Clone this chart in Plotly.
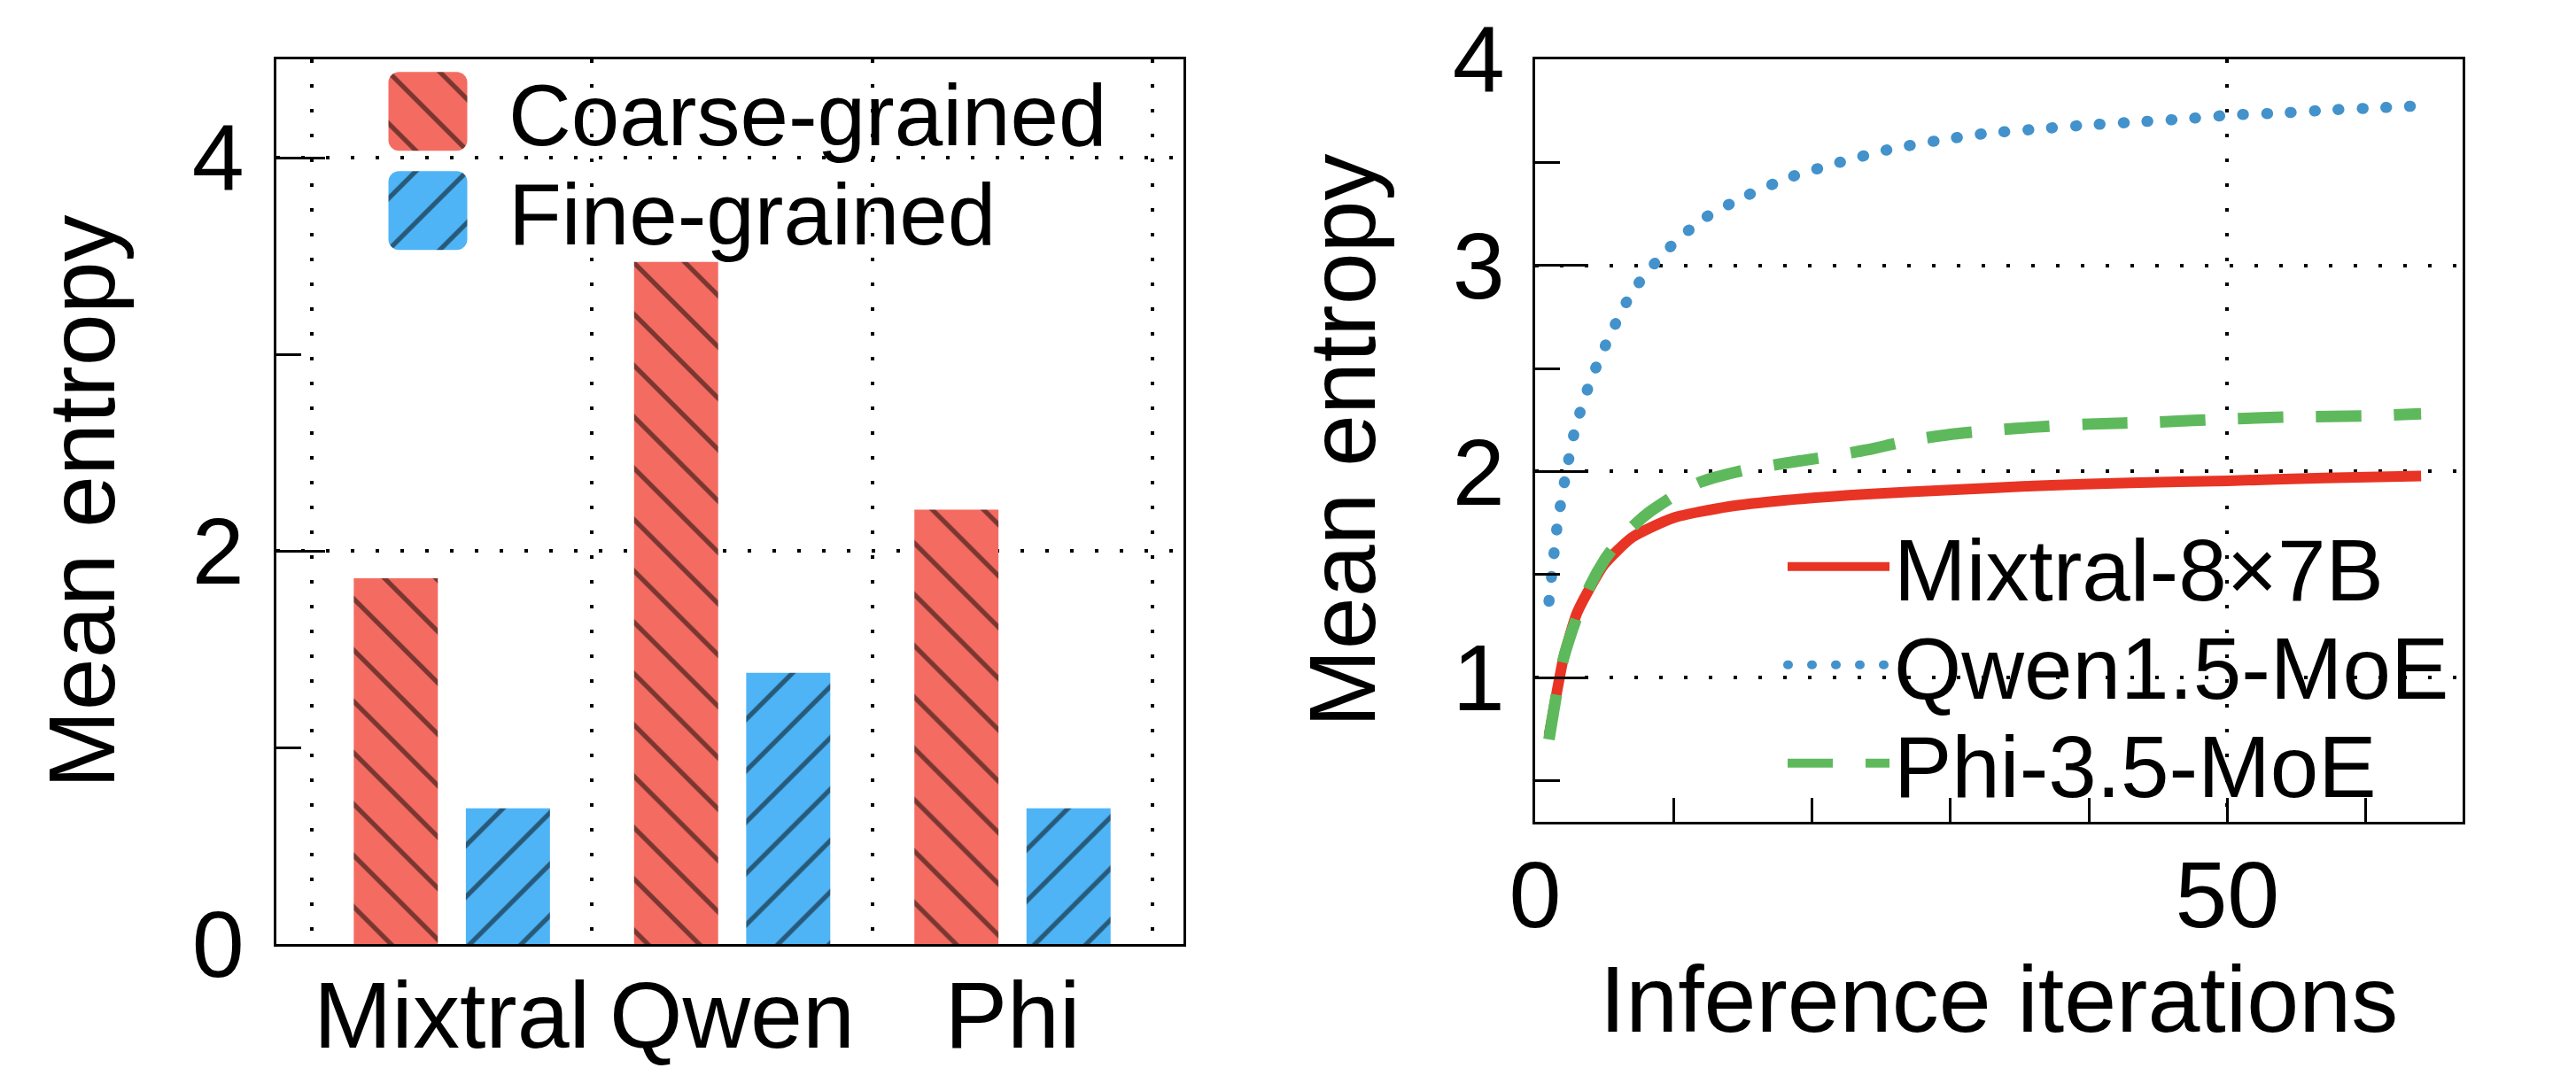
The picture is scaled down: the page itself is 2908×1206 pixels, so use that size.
import plotly.graph_objects as go

# ---------------- data ----------------
models = ["Mixtral", "Qwen", "Phi"]
coarse_entropy = [1.86, 3.47, 2.21]
fine_entropy = [0.69, 1.38, 0.69]

mixtral_iter = [1, 2, 2.4, 3, 4, 5, 7, 10, 14, 18, 24, 30, 36, 43, 50, 57, 64]
mixtral_entropy = [0.72, 1.08, 1.18, 1.31, 1.44, 1.55, 1.68, 1.775, 1.83, 1.86, 1.89, 1.91, 1.93, 1.945, 1.955, 1.968, 1.978]

qwen_iter = [1, 1.6, 2.2, 2.9, 4, 5.4, 7, 9.3, 12, 15, 18.5, 22, 25.4, 29, 32.5, 36, 39.6, 43.2, 46.7, 50.3, 54, 57.5, 61, 64]
qwen_entropy = [1.37, 1.74, 1.98, 2.21, 2.44, 2.66, 2.87, 3.06, 3.22, 3.33, 3.43, 3.50, 3.56, 3.605, 3.64, 3.66, 3.68, 3.695, 3.71, 3.73, 3.74, 3.755, 3.765, 3.775]

phi_iter = [1, 2, 3, 4, 5, 6, 7, 8, 10, 12, 15, 18, 21, 24, 27, 30, 33, 36, 40, 45, 50, 55, 60, 64]
phi_entropy = [0.70, 1.08, 1.29, 1.45, 1.57, 1.66, 1.73, 1.79, 1.88, 1.95, 2.005, 2.04, 2.07, 2.105, 2.15, 2.18, 2.20, 2.215, 2.23, 2.24, 2.255, 2.265, 2.27, 2.28]

# ---------------- style ----------------
W, H = 2908, 1206
FONT = "Liberation Sans, Arial, Helvetica, sans-serif"
FS = 106
LFS = 98
RED_BAR = "#F46C61"
BLUE_BAR = "#4FB4F5"
RED_LINE = "#E83424"
BLUE_LINE = "#4392CB"
GREEN_LINE = "#5EB95C"
GRID_DASH = "3.5px,24.5px"

fig = go.Figure()

fig.add_trace(go.Bar(
    x=models, y=coarse_entropy, name="Coarse-grained",
    width=0.3, offset=-0.35,
    marker=dict(color=RED_BAR, line=dict(width=0),
                pattern=dict(shape="\\", size=41, solidity=0.13, fgcolor="black", bgcolor=RED_BAR)),
    xaxis="x", yaxis="y", legend="legend"))
fig.add_trace(go.Bar(
    x=models, y=fine_entropy, name="Fine-grained",
    width=0.3, offset=0.05,
    marker=dict(color=BLUE_BAR, line=dict(width=0),
                pattern=dict(shape="/", size=41, solidity=0.13, fgcolor="black", bgcolor=BLUE_BAR)),
    xaxis="x", yaxis="y", legend="legend2"))

fig.add_trace(go.Scatter(
    x=mixtral_iter, y=mixtral_entropy, name="Mixtral-8×7B", mode="lines",
    line=dict(color=RED_LINE, width=12, shape="spline", smoothing=0.6),
    xaxis="x2", yaxis="y2", legend="legend3"))
fig.add_trace(go.Scatter(
    x=qwen_iter, y=qwen_entropy, name="Qwen1.5-MoE", mode="lines",
    line=dict(color=BLUE_LINE, width=12.5, dash="1px,26px", shape="spline", smoothing=0.6),
    xaxis="x2", yaxis="y2", legend="legend4"))
fig.add_trace(go.Scatter(
    x=phi_iter, y=phi_entropy, name="Phi-3.5-MoE", mode="lines",
    line=dict(color=GREEN_LINE, width=13, dash="51px,37px", shape="spline", smoothing=0.6),
    xaxis="x2", yaxis="y2", legend="legend5"))

axis_common = dict(
    showline=True, linecolor="black", linewidth=3, mirror=True,
    tickfont=dict(family=FONT, size=FS, color="black"),
    tickcolor="black", tickwidth=3,
    gridcolor="black", gridwidth=3.5, griddash=GRID_DASH,
    zeroline=False, automargin=False,
)

def leg(xpx, ypx, iw):
    return dict(
        x=xpx / W, y=1 - ypx / H, xanchor="left", yanchor="middle",
        bgcolor="rgba(0,0,0,0)", font=dict(family=FONT, size=LFS, color="black"),
        itemwidth=iw, tracegroupgap=0, borderwidth=0,
    )

fig.update_layout(
    width=W, height=H,
    margin=dict(l=0, r=0, t=0, b=0),
    paper_bgcolor="white", plot_bgcolor="white",
    font=dict(family=FONT, size=FS, color="black"),
    showlegend=True,
    xaxis=dict(
        **axis_common,
        domain=[312 / W, 1336 / W], anchor="y",
        type="category", range=[-0.626, 2.61],
        tickson="boundaries", ticks="", showgrid=True,
        tickangle=0, ticklabelstandoff=-13,
    ),
    yaxis=dict(
        **axis_common,
        domain=[1 - 1066 / H, 1 - 67 / H], anchor="x",
        range=[0, 4.5], tickmode="linear", tick0=0, dtick=2,
        ticks="inside", ticklen=55, showgrid=True,
        minor=dict(tick0=0, dtick=1, ticks="inside", ticklen=28, tickwidth=3, tickcolor="black", showgrid=False),
        ticklabelstandoff=12,
        title=dict(text="Mean entropy", font=dict(family=FONT, size=FS), standoff=52),
    ),
    xaxis2=dict(
        **axis_common,
        domain=[1733 / W, 2780 / W], anchor="y2",
        range=[0, 67], tickmode="linear", tick0=0, dtick=50,
        ticks="inside", ticklen=27, showgrid=True,
        minor=dict(tick0=0, dtick=10, ticks="inside", ticklen=27, tickwidth=3, tickcolor="black", showgrid=False),
        tickangle=0, ticklabelstandoff=-11,
        title=dict(text="Inference iterations", font=dict(family=FONT, size=FS), standoff=23),
    ),
    yaxis2=dict(
        **axis_common,
        domain=[1 - 928 / H, 1 - 67 / H], anchor="x2",
        range=[0.3, 4], tickmode="linear", tick0=0, dtick=1,
        ticks="inside", ticklen=58, showgrid=True,
        minor=dict(tick0=0, dtick=0.5, ticks="inside", ticklen=28, tickwidth=3, tickcolor="black", showgrid=False),
        ticklabelstandoff=10,
        title=dict(text="Mean entropy", font=dict(family=FONT, size=FS), standoff=52),
    ),
    legend=leg(392, 126, 172),
    legend2=leg(392, 238, 172),
    legend3=leg(2013, 640, 115),
    legend4=leg(2013, 751, 115),
    legend5=leg(2013, 862, 115),
)

# enlarge the bar legend swatches to rounded squares that reuse the bars' hatch fill,
# and give the dotted line round dots
post = """
var gd = document.getElementById('{plot_id}');
function restyleLegend(){
  try {
    gd.querySelectorAll('path.js-line').forEach(function(p){
      var s = (p.style.stroke || p.getAttribute('stroke') || '').replace(/\\s/g,'').toLowerCase();
      if (s === 'rgb(67,146,203)' || s === '#4392cb') { p.style.strokeLinecap = 'round'; }
    });
    var fills = [];
    gd.querySelectorAll('.barlayer .trace').forEach(function(t){
      var p = t.querySelector('path');
      fills.push(p ? p.style.fill : null);
    });
    var sw = gd.querySelectorAll('.legendpoints path');
    var r = 12, h = 44.5, a = h - r;
    var d = 'M' + (-a) + ',' + (-h) + 'H' + a + 'A' + r + ',' + r + ' 0 0 1 ' + h + ',' + (-a) +
            'V' + a + 'A' + r + ',' + r + ' 0 0 1 ' + a + ',' + h +
            'H' + (-a) + 'A' + r + ',' + r + ' 0 0 1 ' + (-h) + ',' + a +
            'V' + (-a) + 'A' + r + ',' + r + ' 0 0 1 ' + (-a) + ',' + (-h) + 'Z';
    var k = 0;
    sw.forEach(function(p){
      if (k >= fills.length) { return; }
      p.setAttribute('d', d);
      if (fills[k]) { p.style.fill = fills[k]; }
      p.style.strokeWidth = '0px';
      k += 1;
    });
  } catch (e) {}
}
restyleLegend();
if (gd.on) { gd.on('plotly_afterplot', restyleLegend); }
setTimeout(restyleLegend, 50);
setTimeout(restyleLegend, 400);
setTimeout(restyleLegend, 1200);
"""

fig.write_html("out.html", post_script=post)
